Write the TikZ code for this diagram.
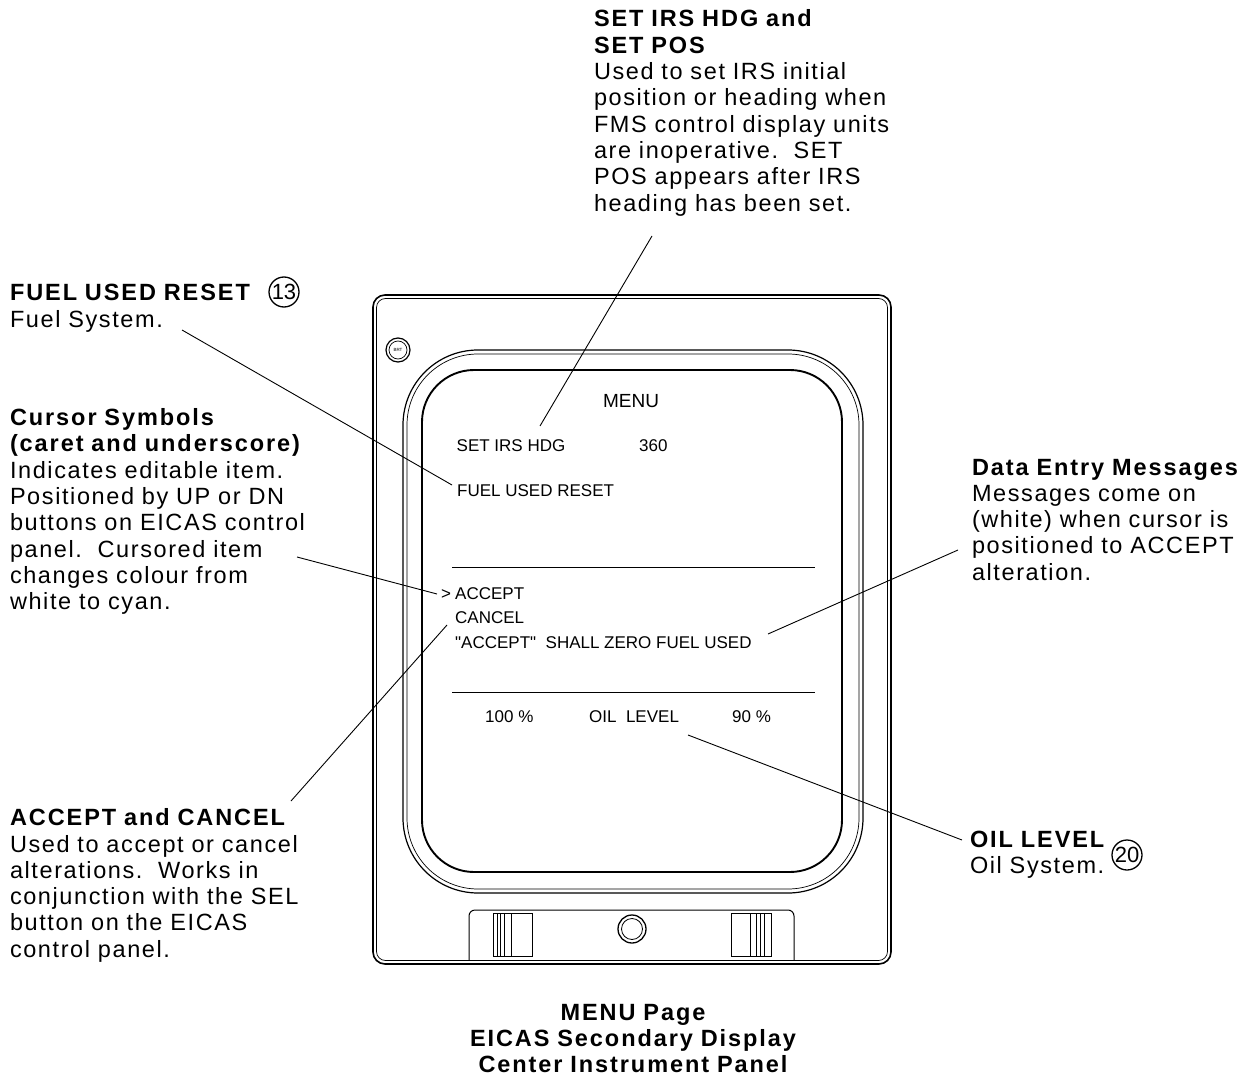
\documentclass[tikz,border=0pt]{standalone}
\usepackage{fontspec}
\setmainfont{Liberation Sans}
\newfontfamily\lblfont[LetterSpace=6.8, BoldFeatures={LetterSpace=8.2}]{Liberation Sans}
\newfontfamily\scrfont{Liberation Sans}
\begin{document}
\begin{tikzpicture}[x=1pt,y=-1pt,
  lbl/.style={anchor=base west, inner sep=0pt, outer sep=0pt, text width=420pt, align=left,
    font=\lblfont\fontsize{23.5}{26.3}\selectfont},
  captxt/.style={anchor=base, inner sep=0pt, text width=420pt, align=center,
    font=\lblfont\fontsize{23.5}{26}\selectfont\bfseries},
  scr/.style={anchor=base west, inner sep=0pt, font=\scrfont\fontsize{17}{20}\selectfont},
  leader/.style={line width=0.9pt},
  cnum/.style={draw, circle, line width=1.3pt, inner sep=0pt, minimum size=30pt,
    font=\scrfont\fontsize{22}{22}\selectfont},
  rule/.style={line width=0.9pt}]
\useasboundingbox[fill=white] (0,0) rectangle (1256,1078);

% ---------- panel ----------
\draw[line width=1.6pt, rounded corners=12pt] (373,295) rectangle (891,964);
\draw[line width=0.7pt, rounded corners=9pt] (376.5,298.5) rectangle (887.5,960.5);
% bezel
\draw[line width=1.2pt, rounded corners=75pt] (403,350) rectangle (863,893);
\draw[line width=0.7pt, rounded corners=71pt] (407,354) rectangle (859,889);
% screen
\draw[line width=1.9pt, rounded corners=52pt] (422,370) rectangle (842,872);
% BRT knob
\draw[line width=1.2pt] (398,350) circle[radius=12pt];
\draw[line width=0.7pt] (398,350) circle[radius=9pt];
\node[inner sep=0pt, font=\scrfont\fontsize{4.5}{5}\selectfont] (brt) at (398,350) {BRT};
% bottom strip
\draw[line width=1pt, rounded corners=6pt] (469,960.5) -- (469,910) -- (794,910) -- (794,960.5);
\draw[line width=0.8pt] (493,913) rectangle (532,956);
\foreach \xx in {497,500.5,504.5,511.5} \draw[line width=0.6pt] (\xx,913) -- (\xx,956);
\draw[line width=0.8pt] (731,913) rectangle (771,956);
\foreach \xx in {750.5,756,760,764} \draw[line width=0.6pt] (\xx,913) -- (\xx,956);
\draw[line width=1.3pt] (632,929) circle[radius=14pt];
\draw[line width=0.8pt] (632,929) circle[radius=10.5pt];

% ---------- screen content ----------
\node[scr, anchor=base, font=\scrfont\fontsize{19}{20}\selectfont] (menu) at (631,407) {MENU};
\node[scr] (setirs) at (456.5,451) {SET IRS HDG};
\node[scr] (hdg) at (639,451) {360};
\node[scr] (fuelreset) at (457,496) {FUEL USED RESET};
\draw[rule] (452,567) -- (815,567);
\node[scr] (caret) at (441,599) {>};
\node[scr] (accept) at (455,599) {ACCEPT};
\node[scr] (cancel) at (455,623.5) {CANCEL};
\node[scr] (msg) at (455,648.5) {"ACCEPT"\ \ SHALL ZERO FUEL USED};
\draw[rule] (452,692) -- (815,692);
\node[scr] (pl) at (485,722.7) {100 \%};
\node[scr] (oil) at (589,722.7) {OIL\ \ LEVEL};
\node[scr] (pr) at (732,722.7) {90 \%};

% ---------- callout texts ----------
\node[lbl] (tSet) at (594,27) {{\bfseries SET IRS HDG and}\\ {\bfseries SET POS}\\
  Used to set IRS initial\\ position or heading when\\ FMS control display units\\
  are inoperative.\ \ SET\\ POS appears after IRS\\ heading has been set.};
\node[lbl] (tFuel) at (10,301) {{\bfseries FUEL USED RESET}\\ Fuel System.};
\node[cnum] (c13) at (284,292) {13};
\node[lbl] (tCur) at (10,425.5) {{\bfseries Cursor Symbols}\\ {\bfseries (caret and underscore)}\\
  Indicates editable item.\\ Positioned by UP or DN\\ buttons on EICAS control\\
  panel.\ \ Cursored item\\ changes colour from\\ white to cyan.};
\node[lbl] (tAcc) at (10,825.7) {{\bfseries ACCEPT and CANCEL}\\ Used to accept or cancel\\
  alterations.\ \ Works in\\ conjunction with the SEL\\ button on the EICAS\\ control panel.};
\node[lbl] (tData) at (972,475) {{\bfseries Data Entry Messages}\\ Messages come on\\
  (white) when cursor is\\ positioned to ACCEPT\\ alteration.};
\node[lbl] (tOil) at (970,847) {{\bfseries OIL LEVEL}\\ Oil System.};
\node[cnum] (c20) at (1127,855) {20};
\node[captxt] (caption) at (633,1020) {MENU Page\\ EICAS Secondary Display\\ Center Instrument Panel};

% ---------- leaders ----------
\coordinate (aSet) at (652,236);   \coordinate (bSet) at (540,426);
\coordinate (aFuel) at (182,330);  \coordinate (bFuel) at (452,485);
\coordinate (aCur) at (297,557);   \coordinate (bCur) at (437,594);
\coordinate (aAcc) at (291,801);   \coordinate (bAcc) at (447,625);
\coordinate (aData) at (958,550);  \coordinate (bData) at (768,634);
\coordinate (aOil) at (962,840);   \coordinate (bOil) at (688,735);
\draw[leader] (aSet) -- (bSet);
\draw[leader] (aFuel) -- (bFuel);
\draw[leader] (aCur) -- (bCur);
\draw[leader] (aAcc) -- (bAcc);
\draw[leader] (aData) -- (bData);
\draw[leader] (aOil) -- (bOil);
\end{tikzpicture}
\end{document}
